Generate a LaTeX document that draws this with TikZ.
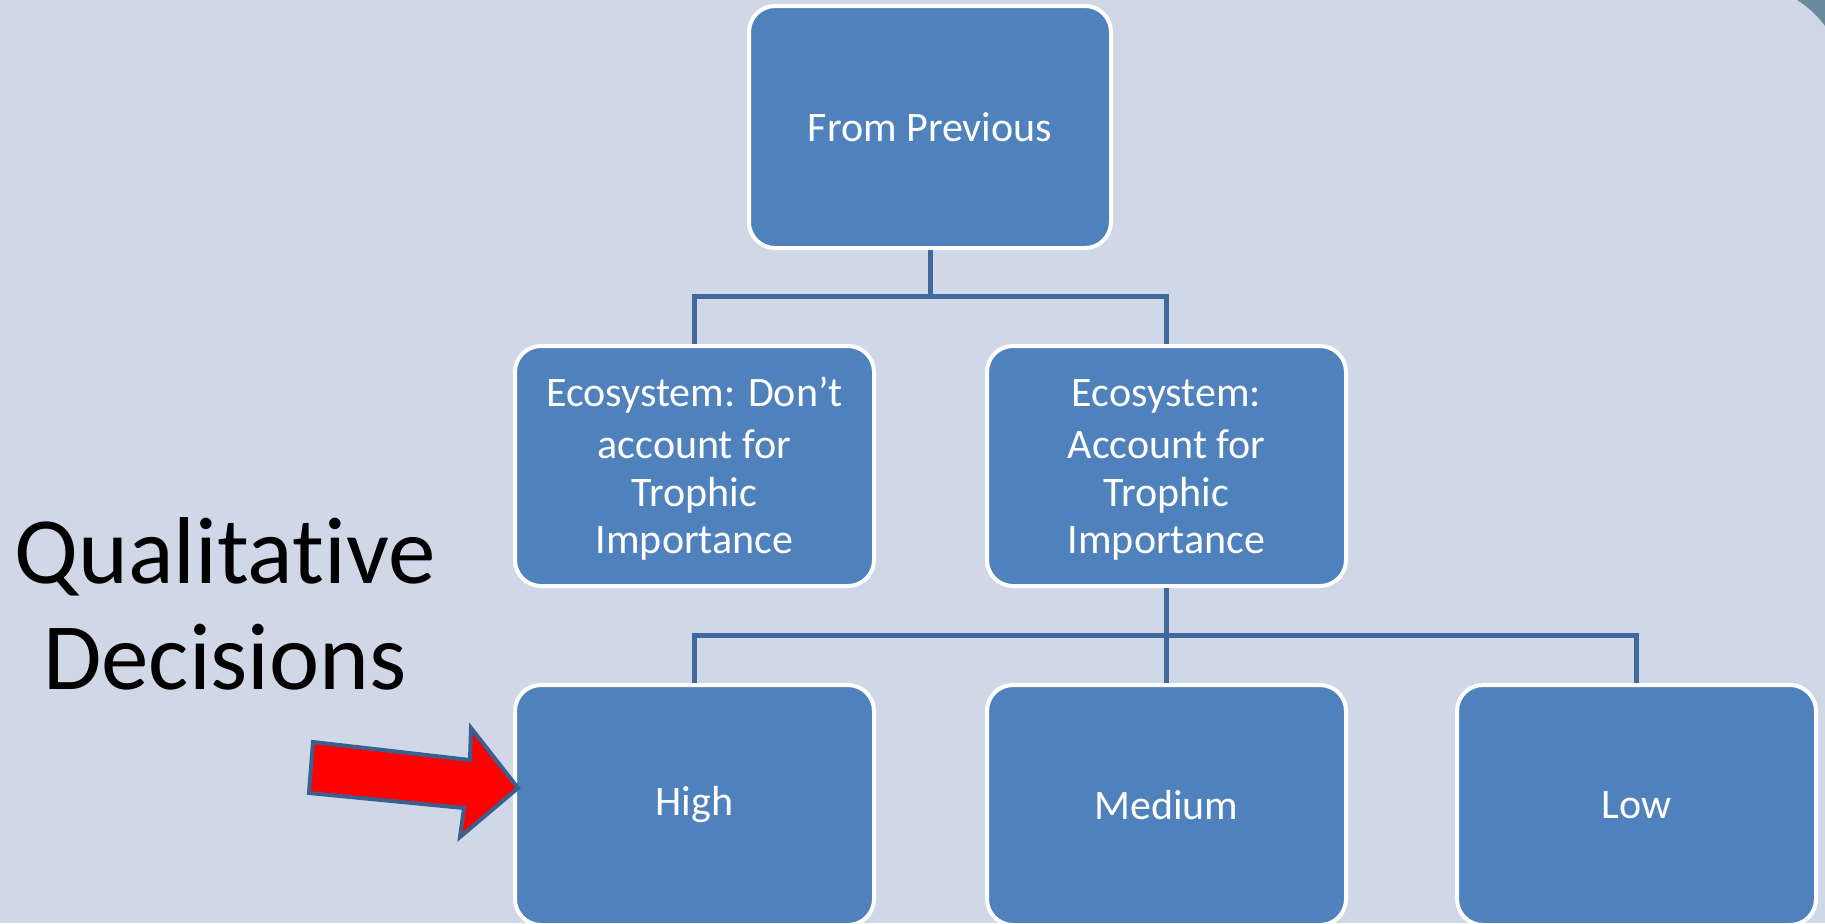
\documentclass[tikz,border=0pt]{standalone}
\usepackage{fontspec}
\setmainfont{Carlito}[Ligatures=NoCommon]
\definecolor{slidebg}{HTML}{D0D8E8}
\definecolor{boxfill}{HTML}{4F81BD}
\definecolor{linkblue}{HTML}{41689C}
\definecolor{arrowedge}{HTML}{3B5F8E}
\definecolor{framecorner}{HTML}{6A8A9E}
\newcommand{\topstrut}{\rule{0pt}{17.5pt}}
\begin{document}
\begin{tikzpicture}[x=0.5pt,y=-0.5pt,
  orgbox/.style={draw=white, line width=2pt, fill=boxfill, rounded corners=13pt,
    text=white, align=center, inner sep=0pt,
    font=\fontsize{21pt}{23.75pt}\selectfont},
  bigbox/.style={orgbox, minimum width=181pt, minimum height=121pt},
  midbox/.style={orgbox, minimum width=179.5pt, minimum height=120pt},
  link/.style={draw=linkblue, line width=2.5pt},
  redarrow/.style={draw=arrowedge, line width=2pt, fill=red, line join=miter}]
  % canvas
  \clip (0,0) rectangle (1825,923);
  \fill[slidebg] (0,0) rectangle (1825,923);
  % dark frame corner, top right
  \fill[framecorner] (1797,0) .. controls (1808,7) and (1817,15) .. (1825,26)
    -- (1825,0) -- cycle;

  % boxes
  \node[bigbox] (prev) at (930,127) {From Previous};
  \node[midbox] (noacc) at (694.5,466) {\topstrut Ecosystem: Don’t\\[2.5pt]account for\\Trophic\\Importance};
  \node[midbox] (acc) at (1166.5,466) {\topstrut Ecosystem:\\[2.5pt]Account for\\Trophic\\Importance};
  \node[midbox] (high) at (694.5,805) {High};
  \node[midbox] (med) at (1166.5,805) {Medium};
  \node[midbox] (low) at (1636.5,805) {Low};

  % tree connectors
  \draw[link] (prev.south) -- ++(0,46) -| (noacc.north);
  \draw[link] (prev.south) ++(0,46) -| (acc.north);
  \draw[link] (acc.south) -- (med.north);
  \draw[link] (acc.south) ++(0,47) -| (high.north);
  \draw[link] (acc.south) ++(0,47) -| (low.north);

  % side label
  \node[font=\fontsize{47.5pt}{53pt}\selectfont, align=center] (qual) at (225,604)
    {Qualitative\\Decisions};

  % red block arrow pointing at the High box
  \coordinate (tip) at (518,788);
  \draw[redarrow] (313,742) -- (470,760) -- (471,728) -- (tip)
    -- (460,837) -- (464,808) -- (309,793) -- cycle;
\end{tikzpicture}
\end{document}
